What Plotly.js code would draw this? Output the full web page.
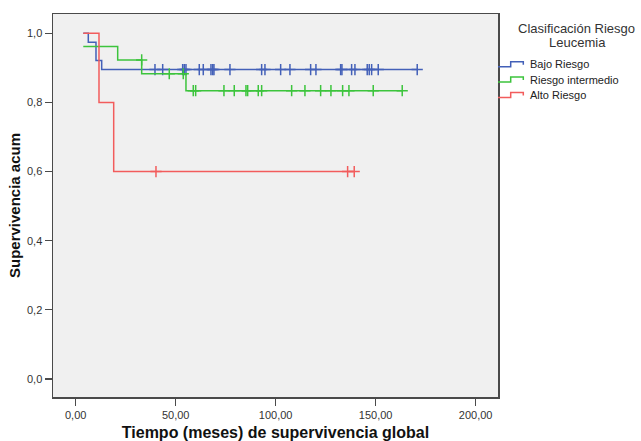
<!DOCTYPE html>
<html>
<head>
<meta charset="utf-8">
<script src="https://cdn.plot.ly/plotly-3.0.1.min.js"></script>
<style>
  html, body { margin: 0; padding: 0; background: #ffffff; }
  #chart { width: 641px; height: 441px; }
</style>
</head>
<body>
<div id="chart"></div>
<script>
// Kaplan-Meier survival by leukaemia risk group (time in months)
const groupNames = ['Bajo Riesgo', 'Riesgo intermedio', 'Alto Riesgo'];
const groupColors = ['#4360b8', '#3cc43c', '#f25c5c'];

// Step points: time of each step and survival after it (last point = end of follow-up)
const bajoStepTimes = [3.8, 6.3, 10.15, 13.0, 170.8];
const bajoStepSurv  = [1.0, 0.974, 0.921, 0.895, 0.895];
const intermStepTimes = [3.8, 21.0, 33.0, 55.15, 163.5];
const intermStepSurv  = [0.962, 0.923, 0.883, 0.834, 0.834];
const altoStepTimes = [3.8, 11.65, 19.0, 139.3];
const altoStepSurv  = [1.0, 0.8, 0.6, 0.6];

// Censored observations (months)
const bajoCensored = [39.65, 43.5, 53.5, 54.3, 55.15, 61.8, 63.8, 67.65, 68.5, 69.15, 77.15,
  93.0, 94.65, 102.5, 107.15, 117.5, 120.15, 132.5, 133.15, 138.0, 139.65, 145.8, 146.8,
  148.0, 151.3, 170.8];
const intermCensored = [33.0, 46.8, 53.8, 58.8, 60.0, 74.15, 79.3, 85.15, 86.0, 91.3, 93.0,
  108.0, 114.65, 122.5, 127.65, 133.5, 136.65, 148.8, 163.3];
const altoCensored = [40.15, 136.0, 139.3];

const xTicks = [0, 50, 100, 150, 200];
const yTicks = [0, 0.2, 0.4, 0.6, 0.8, 1.0];

const groups = [
  { times: bajoStepTimes, surv: bajoStepSurv, cens: bajoCensored },
  { times: intermStepTimes, surv: intermStepSurv, cens: intermCensored },
  { times: altoStepTimes, surv: altoStepSurv, cens: altoCensored }
];

// survival level in effect just before time t
function survAt(g, t) {
  let s = g.surv[0];
  for (let i = 0; i < g.times.length; i++) {
    if (g.times[i] < t) s = g.surv[i];
  }
  return s;
}

const traces = [];
groups.forEach((g, i) => {
  traces.push({
    type: 'scatter', mode: 'lines', name: groupNames[i],
    x: g.times, y: g.surv,
    line: { shape: 'hv', color: groupColors[i], width: 1.5 },
    hoverinfo: 'skip', showlegend: false
  });
  traces.push({
    type: 'scatter', mode: 'markers', name: groupNames[i] + ' (censurado)',
    x: g.cens, y: g.cens.map(t => survAt(g, t)),
    marker: { symbol: 'cross-thin', size: 8, color: groupColors[i],
              line: { color: groupColors[i], width: 1.5 } },
    hoverinfo: 'skip', showlegend: false
  });
});

// plot area in pixels: left 53, right 498, top 14, bottom 397
const PL = 53, PR = 498, PT = 14, PB = 397;
const xp = px => (px - PL) / (PR - PL);
const yp = py => (PB - py) / (PB - PT);

const font = 'Arial, "Liberation Sans", sans-serif';
const annotations = [
  { text: 'Clasificación Riesgo', x: xp(576), y: yp(28.5) },
  { text: 'Leucemia', x: xp(577), y: yp(42.5) }
].map(a => Object.assign(a, {
  xref: 'paper', yref: 'paper', xanchor: 'center', yanchor: 'middle',
  showarrow: false, font: { family: font, size: 13, color: '#333333' }
}));

const rowY = [64.3, 79.5, 95.0];
const shapes = [];
groupNames.forEach((name, i) => {
  const c = rowY[i];
  annotations.push({
    text: name, xref: 'paper', yref: 'paper', x: xp(528), y: yp(c),
    xanchor: 'left', yanchor: 'middle', showarrow: false,
    font: { family: font, size: 11, color: '#222222' }
  });
  const pts = [[498, c + 2.4], [510.7, c + 2.4], [510.7, c - 2.6], [523.3, c - 2.6], [523.3, c + 0.5]];
  const path = pts.map((p, k) => (k ? 'L' : 'M') + xp(p[0]).toFixed(5) + ',' + yp(p[1]).toFixed(5)).join(' ');
  shapes.push({
    type: 'path', xref: 'paper', yref: 'paper', path: path,
    line: { color: groupColors[i], width: 1.5 }
  });
});

const axisCommon = {
  showgrid: false, zeroline: false, showline: true, mirror: true,
  linecolor: '#4a4a4a', linewidth: 1.5,
  ticks: 'outside', ticklen: 7, tickwidth: 1.2, tickcolor: '#4a4a4a',
  tickfont: { family: font, size: 11, color: '#333333' }
};

const layout = {
  width: 641, height: 441,
  margin: { l: PL, r: 641 - PR, t: PT, b: 441 - PB, pad: 0 },
  paper_bgcolor: '#ffffff', plot_bgcolor: '#f0f0f0',
  separators: ',.',
  showlegend: false,
  xaxis: Object.assign({}, axisCommon, {
    range: [-11.35, 211.2], tickvals: xTicks, tickformat: '.2f',
    title: { text: 'Tiempo (meses) de supervivencia global', standoff: 8,
             font: { family: font, size: 16, color: '#111111', weight: 'bold' } }
  }),
  yaxis: Object.assign({}, axisCommon, {
    range: [-0.052, 1.0558], tickvals: yTicks, tickformat: '.1f',
    title: { text: 'Supervivencia acum', standoff: 3,
             font: { family: font, size: 15, color: '#111111', weight: 'bold' } }
  }),
  annotations: annotations,
  shapes: shapes
};

Plotly.newPlot('chart', traces, layout, { displayModeBar: false, staticPlot: true });
</script>
</body>
</html>
